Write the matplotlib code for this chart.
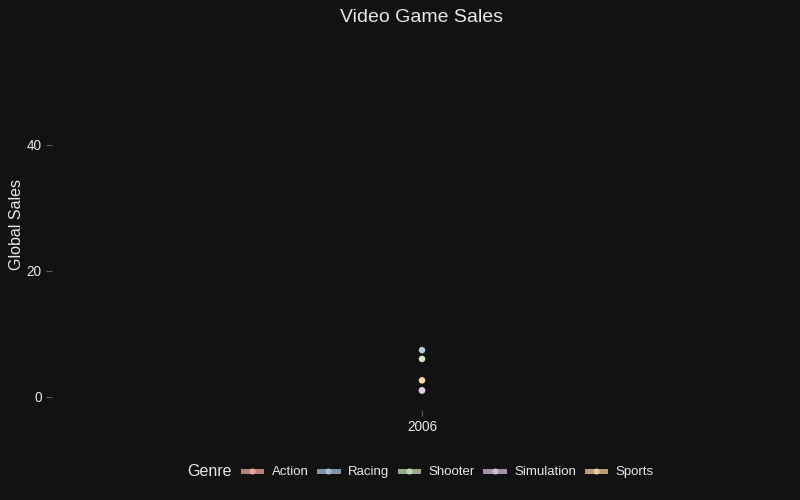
import matplotlib.pyplot as plt
from matplotlib.lines import Line2D

plt.rcParams['font.family'] = ['Liberation Sans', 'DejaVu Sans']

# data (one year shown)
genres = ["Action", "Racing", "Shooter", "Simulation", "Sports"]
years = [2006]
sales = {
    "Action": [1.0],
    "Racing": [7.4],
    "Shooter": [6.0],
    "Simulation": [1.0],
    "Sports": [2.6],
}
colors = ["#fbb4ae", "#b3cde3", "#ccebc5", "#decbe4", "#fed9a6"]

bg = "#121212"
fg = "#e8e8e8"

fig = plt.figure(figsize=(8, 5), dpi=100, facecolor=bg)
ax = fig.add_axes([0.065, 0.18, 0.925, 0.74])
ax.set_facecolor(bg)

for g, c in zip(genres, colors):
    ax.plot(years, sales[g], color=c, alpha=0.7, linewidth=4)
    ax.scatter(years, sales[g], color=c, s=22, zorder=3, edgecolors="none")

ax.set_xlim(2005, 2007)
ax.set_ylim(-2.1, 56.6)
ax.set_xticks([2006])
ax.set_xticklabels(["2006"])
ax.set_yticks([0, 20, 40])

for s in ax.spines.values():
    s.set_visible(False)
ax.tick_params(colors="#555f5a", labelcolor=fg, labelsize=9.8, length=4, width=0.8)

fig.text(17 / 800, 1 - 225 / 500, "Global Sales", color=fg, fontsize=11.5,
         rotation=90, ha="center", va="center")
fig.text(0.527, 0.965, "Video Game Sales", color=fg, fontsize=14,
         ha="center", va="center")

# legend: title on the left, entries in one row
legend_y = 1 - 472 / 500
fig.text(187 / 800, legend_y, "Genre", color=fg, fontsize=11.5,
         ha="left", va="center")
handles = [Line2D([0], [0], color=c, alpha=0.7, linewidth=3.6, marker="o",
                  markersize=4.5, markerfacecolor=c, markeredgecolor="none")
           for c in colors]
leg = fig.legend(handles, genres, loc="center left",
                 bbox_to_anchor=(243 / 800, legend_y), ncol=5, frameon=False,
                 fontsize=9.5, borderpad=0, borderaxespad=0,
                 handlelength=1.4, columnspacing=0.78, handletextpad=0.8)
for t in leg.get_texts():
    t.set_color(fg)

fig.savefig("out.png", dpi=100, facecolor=bg)
